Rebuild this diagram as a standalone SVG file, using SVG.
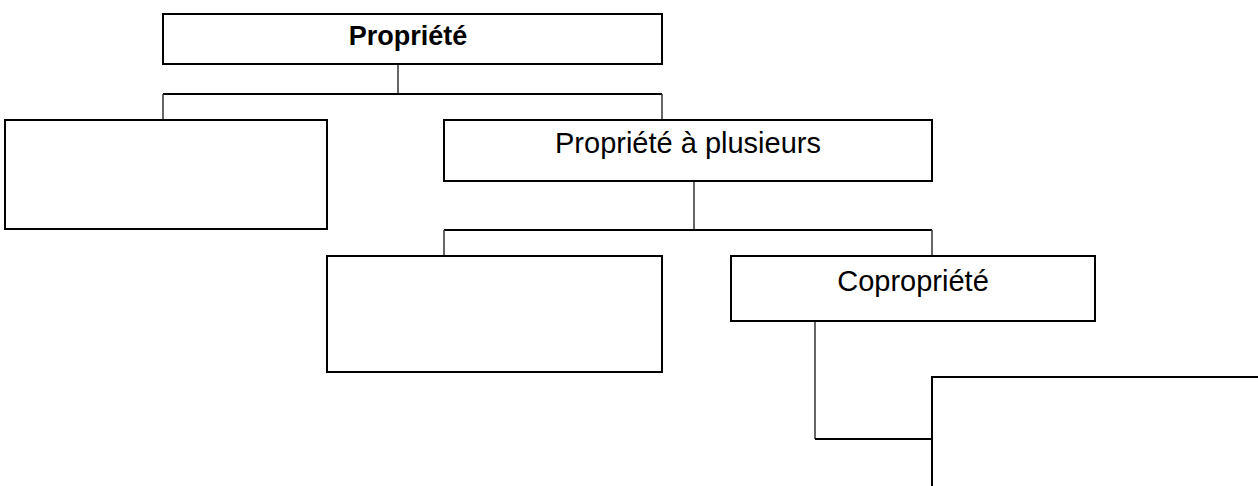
<svg xmlns="http://www.w3.org/2000/svg" width="1258" height="486" viewBox="0 0 1258 486">
<style>
.box{fill:#fff;stroke:#000;stroke-width:2}
.h{stroke:#000;stroke-width:2;fill:none}
.v{stroke:#333;stroke-width:1.5;fill:none}
.t{font-family:"Liberation Sans",Arial,sans-serif;font-size:29px;fill:#000;text-anchor:middle}
.b{font-weight:bold;font-size:27px}
</style>
<rect width="1258" height="486" fill="#fff"/>
<g id="connectors">
<line class="v" x1="398" y1="64" x2="398" y2="94"/>
<line class="h" x1="163" y1="94" x2="662" y2="94"/>
<line class="v" x1="163" y1="94" x2="163" y2="120"/>
<line class="v" x1="662" y1="94" x2="662" y2="120"/>
<line class="v" x1="694" y1="181" x2="694" y2="230"/>
<line class="h" x1="444" y1="230" x2="932" y2="230"/>
<line class="v" x1="444" y1="230" x2="444" y2="256"/>
<line class="v" x1="932" y1="230" x2="932" y2="256"/>
<line class="v" x1="815" y1="321" x2="815" y2="439"/>
<line class="h" x1="815" y1="439" x2="932" y2="439"/>
</g>
<g id="propriete">
<rect class="box" x="163" y="14" width="499" height="50"/>
<text class="t b" x="408" y="45">Propriété</text>
</g>
<g id="node-left">
<rect class="box" x="5" y="120" width="322" height="109"/>
</g>
<g id="propriete-plusieurs">
<rect class="box" x="444" y="120" width="488" height="61"/>
<text class="t" x="688" y="153">Propriété à plusieurs</text>
</g>
<g id="node-middle">
<rect class="box" x="327" y="256" width="335" height="116"/>
</g>
<g id="copropriete">
<rect class="box" x="731" y="256" width="364" height="65"/>
<text class="t" x="913" y="291">Copropriété</text>
</g>
<g id="node-bottom">
<rect class="box" x="932" y="377" width="400" height="200"/>
</g>
</svg>
